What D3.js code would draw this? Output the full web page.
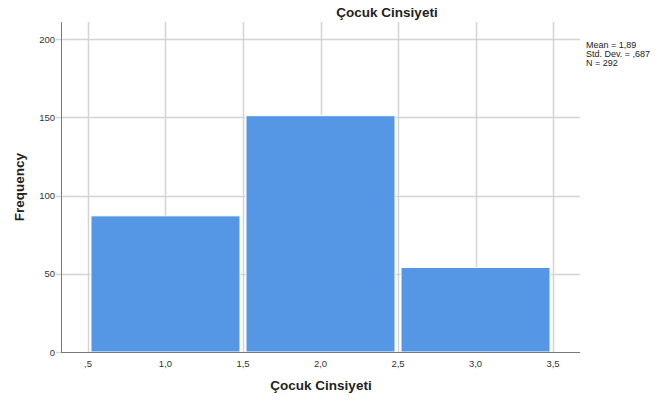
<!DOCTYPE html>
<html><head><meta charset="utf-8">
<script src="https://cdn.jsdelivr.net/npm/d3@7/dist/d3.min.js"></script>
<style>body{margin:0;background:#fff}svg{display:block;font-family:Arial,"Liberation Sans",sans-serif}</style>
</head><body>
<svg id="c" width="655" height="400"></svg>
<script>
const binStarts = [0.5, 1.5, 2.5];
const binEnds = [1.5, 2.5, 3.5];
const frequencies = [87, 151, 54];
const xTicks = [0.5, 1.0, 1.5, 2.0, 2.5, 3.0, 3.5];
const xTickLabels = [",5", "1,0", "1,5", "2,0", "2,5", "3,0", "3,5"];
const yTicks = [0, 50, 100, 150, 200];
const statsLines = ["Mean = 1,89", "Std. Dev. = ,687", "N = 292"];
const title = "Çocuk Cinsiyeti";
const xTitle = "Çocuk Cinsiyeti";
const yTitle = "Frequency";

const svg = d3.select("#c");
const L = 61, R = 580, T = 22, B = 352;
const x = d3.scaleLinear().domain([0.326, 3.674]).range([L, R]);
const y = d3.scaleLinear().domain([0, 200]).range([B, 39]);

const grid = "#d4d4d4";
svg.append("g").selectAll("line").data(xTicks).join("line")
  .attr("x1", d => Math.round(x(d)) + 0.5).attr("x2", d => Math.round(x(d)) + 0.5)
  .attr("y1", T).attr("y2", B)
  .attr("stroke", grid).attr("stroke-width", 1.5);
svg.append("g").selectAll("line").data(yTicks.slice(1)).join("line")
  .attr("x1", L - 5).attr("x2", R)
  .attr("y1", d => Math.round(y(d)) + 0.5).attr("y2", d => Math.round(y(d)) + 0.5)
  .attr("stroke", grid).attr("stroke-width", 1.5);

svg.append("g").selectAll("rect").data(frequencies).join("rect")
  .attr("x", (d, i) => x(binStarts[i]) + 3)
  .attr("width", (d, i) => x(binEnds[i]) - x(binStarts[i]) - 6)
  .attr("y", d => y(d))
  .attr("height", d => B - y(d))
  .attr("fill", "#5697e5")
  .attr("stroke", "#ffffff").attr("stroke-width", 1);

svg.append("line").attr("x1", L + 0.5).attr("x2", L + 0.5).attr("y1", T).attr("y2", B + 1)
  .attr("stroke", "#777").attr("stroke-width", 1);
svg.append("line").attr("x1", L).attr("x2", R).attr("y1", B + 0.5).attr("y2", B + 0.5)
  .attr("stroke", "#777").attr("stroke-width", 1);
svg.append("line").attr("x1", L - 5).attr("x2", L).attr("y1", B + 0.5).attr("y2", B + 0.5)
  .attr("stroke", grid).attr("stroke-width", 1.5);

svg.append("g").selectAll("text").data(yTicks).join("text")
  .attr("x", L - 6).attr("y", d => y(d) + 3.5)
  .attr("text-anchor", "end").attr("font-size", 9.5).attr("fill", "#333")
  .text(d => d);
svg.append("g").selectAll("text").data(xTicks).join("text")
  .attr("x", d => x(d)).attr("y", 367)
  .attr("text-anchor", "middle").attr("font-size", 9.5).attr("fill", "#333")
  .text((d, i) => xTickLabels[i]);

svg.append("text").attr("x", 387).attr("y", 17).attr("text-anchor", "middle")
  .attr("font-size", 13.5).attr("font-weight", "bold").attr("fill", "#222").text(title);
svg.append("text").attr("x", 321).attr("y", 390).attr("text-anchor", "middle")
  .attr("font-size", 13.5).attr("font-weight", "bold").attr("fill", "#222").text(xTitle);
svg.append("text").attr("transform", "translate(24,187) rotate(-90)").attr("text-anchor", "middle")
  .attr("font-size", 13.5).attr("font-weight", "bold").attr("fill", "#222").text(yTitle);

svg.append("g").selectAll("text").data(statsLines).join("text")
  .attr("x", 586).attr("y", (d, i) => 48 + i * 9)
  .attr("font-size", 9).attr("fill", "#222").text(d => d);
</script>
</body></html>
